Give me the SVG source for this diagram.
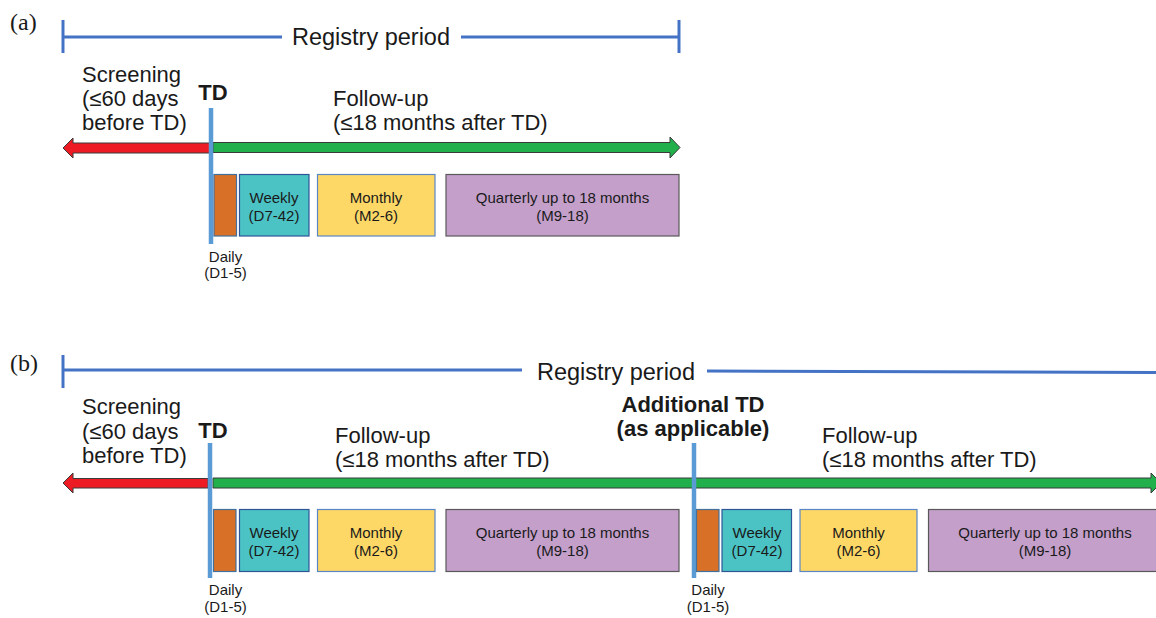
<svg xmlns="http://www.w3.org/2000/svg" width="1156" height="618" viewBox="0 0 1156 618">
<style>
text{font-family:"Liberation Sans",Arial,sans-serif;fill:#1a1a1a}
.lbl{font-family:"Liberation Serif","Times New Roman",serif;font-size:24px}
.reg{font-size:23.5px}
.big{font-size:22px}
.bold{font-size:22px;font-weight:bold}
.sm{font-size:15px;text-anchor:middle}
.mid{text-anchor:middle}
.rl{stroke:#4472C4;stroke-width:3;fill:none}
.td{stroke:#5B9BD5;stroke-width:4.5}
.red{fill:#ED1C24;stroke:#3a3a3a;stroke-width:1}
.grn{fill:#21B04B;stroke:#3a3a3a;stroke-width:1}
.o{fill:#D87027;stroke:#41719C;stroke-width:1.2}
.t{fill:#4BC3C5;stroke:#2F5597;stroke-width:1.2}
.y{fill:#FDD866;stroke:#5B86C5;stroke-width:1.2}
.p{fill:#C39FCA;stroke:#595959;stroke-width:1.2}
</style>

<!-- Panel (a) -->
<g id="panel-a-label"><text class="lbl" x="10" y="30">(a)</text></g>
<g id="registry-a">
  <line class="rl" x1="63" y1="20" x2="63" y2="53"/>
  <line class="rl" x1="63" y1="37" x2="282" y2="37"/>
  <line class="rl" x1="461" y1="37" x2="679" y2="37"/>
  <line class="rl" x1="679" y1="20" x2="679" y2="53"/>
  <text class="reg mid" x="371" y="45">Registry period</text>
</g>
<g id="screening-a">
  <text class="big" x="82" y="82">Screening</text>
  <text class="big" x="82" y="106">(≤60 days</text>
  <text class="big" x="82" y="130">before TD)</text>
</g>
<g id="followup-a">
  <text class="big" x="333" y="106">Follow-up</text>
  <text class="big" x="333" y="130">(≤18 months after TD)</text>
</g>
<g id="connectors-a">
  <path class="red" d="M63,148 L73,138 L73,143 L210,143 L210,153 L73,153 L73,158 Z"/>
  <path class="grn" d="M213,142.5 L670,142.5 L670,137 L680,147.5 L670,158 L670,152.5 L213,152.5 Z"/>
</g>
<g id="td-a">
  <text class="bold mid" x="213" y="100">TD</text>
  <line class="td" x1="211" y1="108" x2="211" y2="244"/>
</g>
<g id="visits-a">
  <rect class="o" x="214" y="174.5" width="22.5" height="61.5"/>
  <rect class="t" x="239.5" y="174.5" width="69.5" height="61.5"/>
  <text class="sm" x="274" y="203">Weekly</text>
  <text class="sm" x="274" y="221">(D7-42)</text>
  <rect class="y" x="317.5" y="174.5" width="117.5" height="61.5"/>
  <text class="sm" x="376" y="203">Monthly</text>
  <text class="sm" x="376" y="221">(M2-6)</text>
  <rect class="p" x="446" y="174.5" width="233" height="61.5"/>
  <text class="sm" x="562.5" y="203">Quarterly up to 18 months</text>
  <text class="sm" x="562.5" y="221">(M9-18)</text>
  <text class="sm" x="225.5" y="261.5">Daily</text>
  <text class="sm" x="225.5" y="278">(D1-5)</text>
</g>

<!-- Panel (b) -->
<g id="panel-b-label"><text class="lbl" x="10" y="371">(b)</text></g>
<g id="registry-b">
  <line class="rl" x1="63" y1="355" x2="63" y2="388"/>
  <line class="rl" x1="63" y1="370" x2="522" y2="370"/>
  <line class="rl" x1="707" y1="371" x2="1156" y2="372.5"/>
  <text class="reg mid" x="616" y="380">Registry period</text>
</g>
<g id="screening-b">
  <text class="big" x="82" y="414">Screening</text>
  <text class="big" x="82" y="439">(≤60 days</text>
  <text class="big" x="82" y="463">before TD)</text>
</g>
<g id="followup-b1">
  <text class="big" x="335" y="443">Follow-up</text>
  <text class="big" x="335" y="467">(≤18 months after TD)</text>
</g>
<g id="followup-b2">
  <text class="big" x="822" y="443">Follow-up</text>
  <text class="big" x="822" y="467">(≤18 months after TD)</text>
</g>
<g id="connectors-b">
  <path class="red" d="M63,483 L73,473 L73,478.5 L208,478.5 L208,488 L73,488 L73,493 Z"/>
  <path class="grn" d="M213,478 L1151,478 L1151,473 L1161,483 L1151,493 L1151,488 L213,488 Z"/>
</g>
<g id="td-b1">
  <text class="bold mid" x="213" y="438">TD</text>
  <line class="td" x1="210" y1="443" x2="210" y2="578"/>
</g>
<g id="td-b2">
  <text class="bold mid" x="693" y="411.5">Additional TD</text>
  <text class="bold mid" x="693" y="436">(as applicable)</text>
  <line class="td" x1="694" y1="443" x2="694" y2="578"/>
</g>
<g id="visits-b1">
  <rect class="o" x="213.5" y="509.5" width="22.5" height="62"/>
  <rect class="t" x="239.5" y="509.5" width="69.5" height="62"/>
  <text class="sm" x="274" y="537.5">Weekly</text>
  <text class="sm" x="274" y="555.5">(D7-42)</text>
  <rect class="y" x="317.5" y="509.5" width="117.5" height="62"/>
  <text class="sm" x="376" y="537.5">Monthly</text>
  <text class="sm" x="376" y="555.5">(M2-6)</text>
  <rect class="p" x="446" y="509.5" width="233" height="62"/>
  <text class="sm" x="562.5" y="537.5">Quarterly up to 18 months</text>
  <text class="sm" x="562.5" y="555.5">(M9-18)</text>
  <text class="sm" x="225.5" y="595">Daily</text>
  <text class="sm" x="225.5" y="611.5">(D1-5)</text>
</g>
<g id="visits-b2">
  <rect class="o" x="696.5" y="509.5" width="22.5" height="62"/>
  <rect class="t" x="722" y="509.5" width="69.5" height="62"/>
  <text class="sm" x="757" y="537.5">Weekly</text>
  <text class="sm" x="757" y="555.5">(D7-42)</text>
  <rect class="y" x="800" y="509.5" width="117" height="62"/>
  <text class="sm" x="858.5" y="537.5">Monthly</text>
  <text class="sm" x="858.5" y="555.5">(M2-6)</text>
  <rect class="p" x="928.5" y="509.5" width="233" height="62"/>
  <text class="sm" x="1045" y="537.5">Quarterly up to 18 months</text>
  <text class="sm" x="1045" y="555.5">(M9-18)</text>
  <text class="sm" x="708" y="595">Daily</text>
  <text class="sm" x="708" y="611.5">(D1-5)</text>
</g>
</svg>
